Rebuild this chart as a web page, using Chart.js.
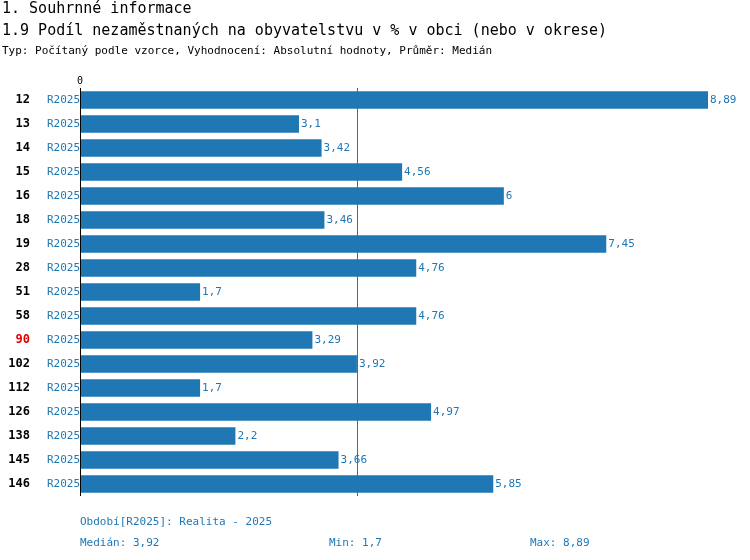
<!DOCTYPE html>
<html><head><meta charset="utf-8">
<script src="https://cdn.jsdelivr.net/npm/chart.js@4"></script>
<style>body{margin:0;background:#fff}</style>
</head><body>
<canvas id="c" width="750" height="560"></canvas>
<script>
const categories = ['12','13','14','15','16','18','19','28','51','58','90','102','112','126','138','145','146'];
const periods = ['R2025','R2025','R2025','R2025','R2025','R2025','R2025','R2025','R2025','R2025','R2025','R2025','R2025','R2025','R2025','R2025','R2025'];
const values = [8.89,3.1,3.42,4.56,6,3.46,7.45,4.76,1.7,4.76,3.29,3.92,1.7,4.97,2.2,3.66,5.85];
const highlighted = '90';
const median = 3.92, minVal = 1.7, maxVal = 8.89;

const blue = '#1f77b4';
const mono = '"DejaVu Sans Mono", monospace';
const fmt = v => String(v).replace('.', ',');

const decor = {
    id: 'decor',
    afterDraw(chart) {
        const ctx = chart.ctx, a = chart.chartArea;
        const x = chart.scales.x, y = chart.scales.y;
        ctx.save();
        ctx.fillStyle = '#000';
        ctx.textBaseline = 'middle';
        ctx.font = '15px ' + mono;
        ctx.fillText('1. Souhrnné informace', 2, 9);
        ctx.fillText('1.9 Podíl nezaměstnaných na obyvatelstvu v % v obci (nebo v okrese)', 2, 31);
        ctx.font = '11px ' + mono;
        ctx.fillText('Typ: Počítaný podle vzorce, Vyhodnocení: Absolutní hodnoty, Průměr: Medián', 2, 51);
        // axis
        ctx.strokeStyle = '#000';
        ctx.lineWidth = 1;
        ctx.beginPath();
        ctx.moveTo(a.left + 0.5, a.top);
        ctx.lineTo(a.left + 0.5, a.bottom);
        ctx.stroke();
        ctx.textAlign = 'center';
        ctx.font = '10px ' + mono;
        ctx.fillText('0', a.left, a.top - 7);
        // median line
        const mx = Math.round(x.getPixelForValue(median)) + 0.5;
        ctx.strokeStyle = blue;
        ctx.beginPath();
        ctx.moveTo(mx, a.top);
        ctx.lineTo(mx, a.bottom);
        ctx.stroke();
        // labels
        categories.forEach((c, i) => {
            const py = y.getPixelForValue(i);
            ctx.textAlign = 'right';
            ctx.font = 'bold 12px ' + mono;
            ctx.fillStyle = c === highlighted ? '#e00000' : '#000';
            ctx.fillText(c, 30, py);
            ctx.textAlign = 'left';
            ctx.font = '11px ' + mono;
            ctx.fillStyle = blue;
            ctx.fillText(periods[i], 47, py);
            ctx.fillText(fmt(values[i]), x.getPixelForValue(values[i]) + 2, py);
        });
        ctx.fillStyle = blue;
        ctx.fillText('Období[R2025]: Realita - 2025', 80, 522);
        ctx.fillText('Medián: ' + fmt(median), 80, 543);
        ctx.fillText('Min: ' + fmt(minVal), 329, 543);
        ctx.fillText('Max: ' + fmt(maxVal), 530, 543);
        ctx.restore();
    }
};

new Chart(document.getElementById('c').getContext('2d'), {
    type: 'bar',
    data: {
        labels: categories,
        datasets: [{
            data: values,
            backgroundColor: blue,
            barPercentage: 0.72,
            categoryPercentage: 1
        }]
    },
    options: {
        indexAxis: 'y',
        responsive: false,
        animation: false,
        layout: { padding: { left: 80, right: 42, top: 88, bottom: 64 } },
        scales: {
            x: { display: false, min: 0, max: 8.89 },
            y: { display: false }
        },
        plugins: { legend: { display: false }, tooltip: { enabled: false } }
    },
    plugins: [decor]
});
</script>
</body></html>
